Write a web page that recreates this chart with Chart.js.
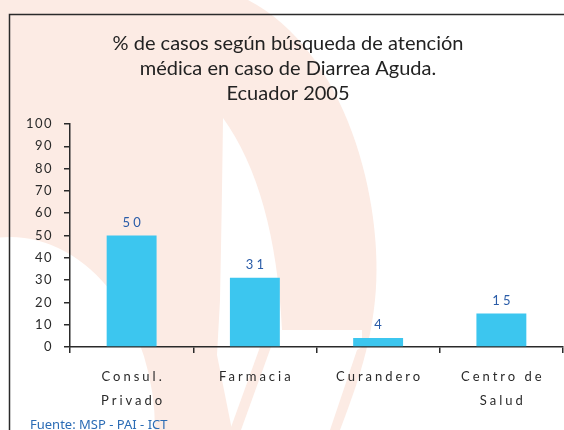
<!DOCTYPE html>
<html>
<head>
<meta charset="utf-8">
<script src="https://cdn.jsdelivr.net/npm/chart.js@4.4.1/dist/chart.umd.min.js"></script>
<style>
  html, body { margin: 0; padding: 0; background: #fff; }
  #chart { display: block; }
</style>
</head>
<body>
<canvas id="chart" width="564" height="430"></canvas>
<script>
// chart data
const titleLines = ['% de casos según búsqueda de atención', 'médica en caso de Diarrea Aguda.', 'Ecuador 2005'];
const categories = [['Consul.', 'Privado'], ['Farmacia'], ['Curandero'], ['Centro de', 'Salud']];
const values = [50, 31, 4, 15];
const yMin = 0;
const yMax = 100;
const yStep = 10;
const sourceNote = 'Fuente: MSP - PAI - ICT';

const PEACH = '#fcebe4';
const INK = '#2a2a2a';
const BLUE = '#2a5ca8';

// pale logo watermark behind the chart
function drawWatermark(ctx) {
  ctx.save();
  ctx.fillStyle = PEACH;
  ctx.beginPath();
  ctx.moveTo(0, 0);
  ctx.lineTo(248, 0);
  ctx.bezierCurveTo(345, 50, 385, 200, 375, 300);
  ctx.bezierCurveTo(370, 350, 355, 390, 340, 430);
  ctx.lineTo(0, 430);
  ctx.closePath();
  ctx.fill();

  ctx.fillStyle = '#fff';
  ctx.beginPath();
  ctx.ellipse(10, 430, 145, 193, 0, 0, Math.PI * 2);
  ctx.fill();

  ctx.beginPath();
  ctx.moveTo(223, 118);
  ctx.quadraticCurveTo(275, 190, 282, 330);
  ctx.lineTo(362, 330);
  ctx.lineTo(362, 347);
  ctx.lineTo(357, 350);
  ctx.lineTo(330, 430);
  ctx.lineTo(232, 430);
  ctx.lineTo(217, 355);
  ctx.lineTo(220, 300);
  ctx.quadraticCurveTo(222, 200, 223, 118);
  ctx.fill();

  ctx.fillStyle = PEACH;
  ctx.beginPath();
  ctx.moveTo(260, 347);
  ctx.lineTo(271, 347);
  ctx.lineTo(241, 430);
  ctx.lineTo(230, 430);
  ctx.closePath();
  ctx.fill();
  ctx.restore();
}

const framePlugin = {
  id: 'frame',
  beforeDraw(chart) {
    const ctx = chart.ctx;
    ctx.save();
    ctx.fillStyle = '#fff';
    ctx.fillRect(0, 0, chart.width, chart.height);
    drawWatermark(ctx);
    ctx.strokeStyle = INK;
    ctx.lineWidth = 1.5;
    ctx.beginPath();
    ctx.moveTo(9.5, chart.height);
    ctx.lineTo(9.5, 14.5);
    ctx.lineTo(chart.width, 14.5);
    ctx.stroke();
    ctx.restore();
    // loose tracking for the y tick labels
    ctx.letterSpacing = '1.5px';
  },
  afterDatasetsDraw(chart) {
    const ctx = chart.ctx;
    const x = chart.scales.x;
    const y = chart.scales.y;
    ctx.save();
    ctx.letterSpacing = '3px';
    ctx.textAlign = 'center';
    ctx.textBaseline = 'alphabetic';

    // value labels above bars
    ctx.font = '13px Lato';
    ctx.fillStyle = BLUE;
    values.forEach((v, i) => {
      ctx.fillText(String(v), x.getPixelForValue(i) + 1.5, y.getPixelForValue(v) - 9);
    });

    // category labels under the axis
    ctx.font = '13px Lato';
    ctx.fillStyle = INK;
    categories.forEach((lines, i) => {
      lines.forEach((line, j) => {
        ctx.fillText(line, x.getPixelForValue(i) + 1.5, 381 + j * 24);
      });
    });
    ctx.restore();
    ctx.letterSpacing = '0px';
  },
  afterDraw(chart) {
    const ctx = chart.ctx;
    ctx.save();
    ctx.letterSpacing = '0px';
    ctx.textAlign = 'center';
    ctx.textBaseline = 'alphabetic';
    ctx.font = '20px Lato';
    ctx.fillStyle = '#222';
    titleLines.forEach((line, i) => ctx.fillText(line, 288, 50 + i * 25));

    ctx.textAlign = 'left';
    ctx.font = '13px "Liberation Sans Narrow", "Noto Sans", sans-serif';
    ctx.fillStyle = '#2b6cb5';
    ctx.fillText(sourceNote, 30, 429);
    ctx.restore();
  }
};

new Chart(document.getElementById('chart'), {
  type: 'bar',
  data: {
    labels: categories,
    datasets: [{
      data: values,
      backgroundColor: '#3cc6ef',
      borderWidth: 0,
      barPercentage: 0.81,
      categoryPercentage: 0.5
    }]
  },
  options: {
    responsive: false,
    animation: false,
    layout: { padding: { top: 124, right: 1, bottom: 0, left: 0 } },
    plugins: {
      legend: { display: false },
      tooltip: { enabled: false }
    },
    scales: {
      x: {
        grid: { offset: true, drawOnChartArea: false, drawTicks: true, tickLength: 6, color: INK, lineWidth: 1.5 },
        border: { color: INK, width: 1.5 },
        ticks: { display: false },
        afterFit: s => { s.height = 83; }
      },
      y: {
        min: yMin,
        max: yMax,
        ticks: { stepSize: yStep, color: INK, font: { family: 'Lato', size: 13 }, padding: 11 },
        grid: { drawOnChartArea: false, drawTicks: true, tickLength: 6, color: INK, lineWidth: 1.5 },
        border: { color: INK, width: 1.5 },
        afterFit: s => { s.width = 70; }
      }
    }
  },
  plugins: [framePlugin]
});
</script>
</body>
</html>
